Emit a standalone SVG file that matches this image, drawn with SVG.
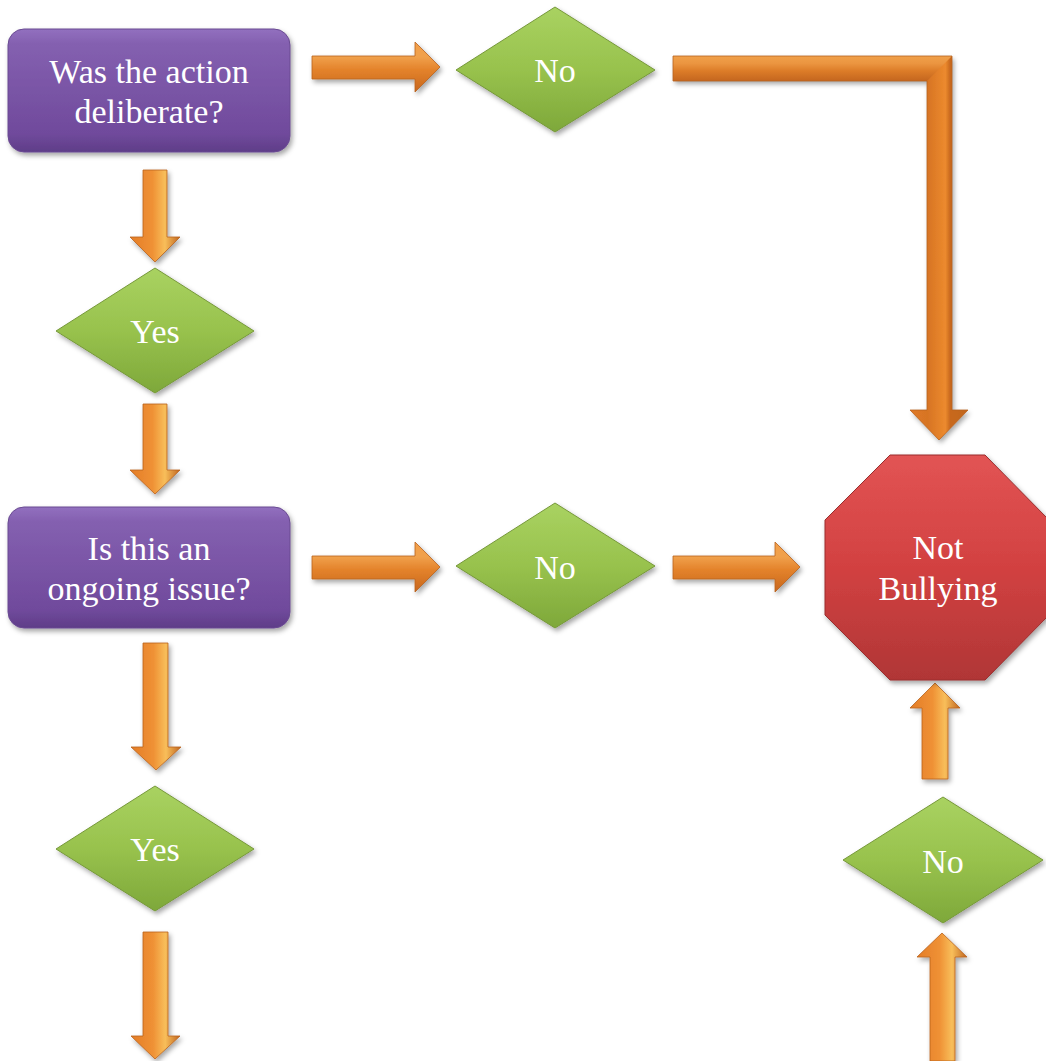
<svg xmlns="http://www.w3.org/2000/svg" width="1046" height="1061" viewBox="0 0 1046 1061">
<defs>
<linearGradient id="gPurple" x1="0" y1="0" x2="0" y2="1">
<stop offset="0" stop-color="#9270bf"/><stop offset="0.12" stop-color="#8460b0"/><stop offset="0.85" stop-color="#704a9c"/><stop offset="1" stop-color="#5f3d88"/>
</linearGradient>
<linearGradient id="gGreen" x1="0" y1="0" x2="0" y2="1">
<stop offset="0" stop-color="#a9d261"/><stop offset="0.5" stop-color="#98c24d"/><stop offset="1" stop-color="#7ea83a"/>
</linearGradient>
<linearGradient id="gRed" x1="0" y1="0" x2="0" y2="1">
<stop offset="0" stop-color="#e25454"/><stop offset="0.5" stop-color="#d24141"/><stop offset="1" stop-color="#b03636"/>
</linearGradient>
<linearGradient id="gArrH" x1="0" y1="0" x2="0" y2="1">
<stop offset="0" stop-color="#f3a04a"/><stop offset="0.3" stop-color="#f0a04b"/><stop offset="0.55" stop-color="#e4832b"/><stop offset="1" stop-color="#c7661e"/>
</linearGradient>
<linearGradient id="gArrV" x1="0" y1="0" x2="1" y2="0">
<stop offset="0" stop-color="#e47d27"/><stop offset="0.45" stop-color="#ef9135"/><stop offset="0.7" stop-color="#f8be5a"/><stop offset="1" stop-color="#c0651e"/>
</linearGradient>
<linearGradient id="gElV" gradientUnits="userSpaceOnUse" x1="910" y1="0" x2="969" y2="0">
<stop offset="0" stop-color="#e07a26"/><stop offset="0.3" stop-color="#d77424"/><stop offset="0.6" stop-color="#ec8a2e"/><stop offset="0.68" stop-color="#c8681f"/><stop offset="1" stop-color="#c0651e"/>
</linearGradient>
<linearGradient id="gElH" gradientUnits="userSpaceOnUse" x1="0" y1="56" x2="0" y2="81">
<stop offset="0" stop-color="#f0a04a"/><stop offset="0.3" stop-color="#eb9540"/><stop offset="0.6" stop-color="#dc7c28"/><stop offset="1" stop-color="#c4661f"/>
</linearGradient>
<filter id="sh" x="-20%" y="-20%" width="140%" height="140%">
<feDropShadow dx="2" dy="3" stdDeviation="2.5" flood-color="#000" flood-opacity="0.35"/>
</filter>
</defs>
<style>
.lbl{font-family:"Liberation Serif","Times New Roman",serif;font-size:34px;fill:#ffffff;text-anchor:middle}
.box{fill:url(#gPurple);stroke:#6a4a92;stroke-width:1;filter:url(#sh)}
.dia{fill:url(#gGreen);stroke:#76983a;stroke-width:1;filter:url(#sh)}
.oct{fill:url(#gRed);stroke:#9a2e2e;stroke-width:1;filter:url(#sh)}
.ah{fill:url(#gArrH);stroke:#b8621e;stroke-width:0.8;filter:url(#sh)}
.av{fill:url(#gArrV);stroke:#b8621e;stroke-width:0.8;filter:url(#sh)}
</style>

<g id="connectors">
<polygon class="ah" points="312,56 415,56 415,42 440,67 415,92 415,79 312,79"/>
<g id="elbow">
<path d="M673,56 L952,56 L952,410 L968,410 L939,440 L910,410 L927,410 L927,81 L673,81 Z" fill="url(#gElV)" filter="url(#sh)"/>
<polygon points="673,56 952,56 927,81 673,81" fill="url(#gElH)"/>
<path d="M673,56 L952,56 L952,410 L968,410 L939,440 L910,410 L927,410 L927,81 L673,81 Z" fill="none" stroke="#b8621e" stroke-width="0.8"/>
</g>
<polygon class="ah" points="312,556 415,556 415,542 440,567 415,592 415,579 312,579"/>
<polygon class="ah" points="673,556 775,556 775,542 800,567 775,592 775,579 673,579"/>
<polygon class="av" points="143,170 167,170 167,237 180,237 155,262 130,237 143,237"/>
<polygon class="av" points="143,404 167,404 167,470 180,470 155,494 130,470 143,470"/>
<polygon class="av" points="143,643 168,643 168,747 181,747 156,770 131,747 143,747"/>
<polygon class="av" points="143,932 168,932 168,1036 180,1036 155,1059 131,1036 143,1036"/>
<polygon class="av" points="922,779 948,779 948,708 960,708 935,683 910,708 922,708"/>
<polygon class="av" points="930,1061 955,1061 955,957 967,957 942,933 917,957 930,957"/>
</g>

<g id="q1">
<rect class="box" x="8" y="29" width="282" height="123" rx="16"/>
<text class="lbl" x="149" y="83">Was the action</text>
<text class="lbl" x="149" y="123">deliberate?</text>
</g>

<g id="no1">
<polygon class="dia" points="555,7 655,70 555,132 456,70"/>
<text class="lbl" x="555" y="82">No</text>
</g>

<g id="yes1">
<polygon class="dia" points="155,268 254,331 155,393 56,331"/>
<text class="lbl" x="155" y="343">Yes</text>
</g>

<g id="q2">
<rect class="box" x="8" y="507" width="282" height="121" rx="16"/>
<text class="lbl" x="149" y="560">Is this an</text>
<text class="lbl" x="149" y="600">ongoing issue?</text>
</g>

<g id="no2">
<polygon class="dia" points="555,503 655,566 555,628 456,566"/>
<text class="lbl" x="555" y="579">No</text>
</g>

<g id="notbullying">
<polygon class="oct" points="890,455 985,455 1049,520 1049,615 985,680 890,680 825,615 825,520"/>
<text class="lbl" x="938" y="559">Not</text>
<text class="lbl" x="938" y="600">Bullying</text>
</g>

<g id="yes2">
<polygon class="dia" points="155,786 254,849 155,911 56,849"/>
<text class="lbl" x="155" y="861">Yes</text>
</g>

<g id="no3">
<polygon class="dia" points="943,797 1043,860 943,923 843,860"/>
<text class="lbl" x="943" y="873">No</text>
</g>
</svg>
